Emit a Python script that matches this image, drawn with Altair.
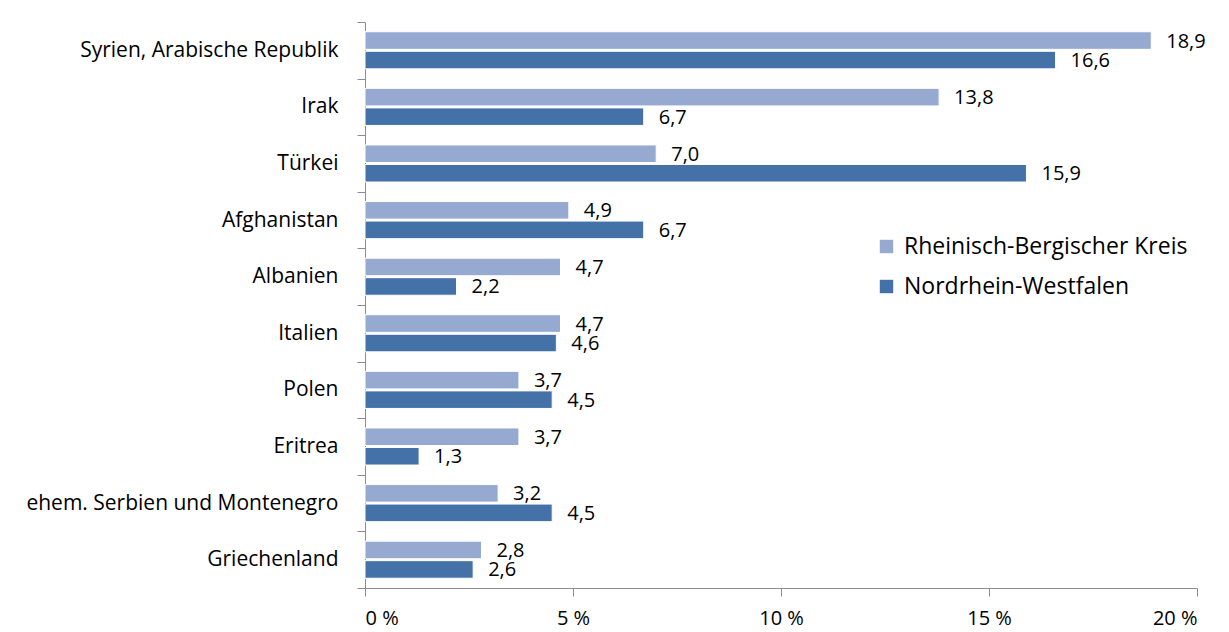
import altair as alt
import pandas as pd

categories = ["Syrien, Arabische Republik", "Irak", "Türkei", "Afghanistan", "Albanien",
              "Italien", "Polen", "Eritrea", "ehem. Serbien und Montenegro", "Griechenland"]
rbk = [18.9, 13.8, 7.0, 4.9, 4.7, 4.7, 3.7, 3.7, 3.2, 2.8]
nrw = [16.6, 6.7, 15.9, 6.7, 2.2, 4.6, 4.5, 1.3, 4.5, 2.6]
series = ["Rheinisch-Bergischer Kreis", "Nordrhein-Westfalen"]
colors = ["#95A9D1", "#4472A8"]

rows = []
for i, c in enumerate(categories):
    rows.append({"land": c, "serie": series[0], "wert": rbk[i]})
    rows.append({"land": c, "serie": series[1], "wert": nrw[i]})
df = pd.DataFrame(rows)
df["label"] = df["wert"].map(lambda v: f"{v:.1f}".replace(".", ","))

FONT = "Open Sans"

y_enc = alt.Y("land:N", sort=categories, title=None,
              scale=alt.Scale(paddingInner=0, paddingOuter=0),
              axis=alt.Axis(tickBand="extent", ticks=True, tickSize=8, tickColor="#8C8C8C",
                            domainColor="#8C8C8C", labelFont=FONT, labelFontSize=21,
                            labelColor="#000000", labelPadding=19, labelLimit=400))
yoff = alt.YOffset("serie:N", sort=series,
                   scale=alt.Scale(paddingInner=0.1, paddingOuter=0.5))
x_enc = alt.X("wert:Q", title=None,
              scale=alt.Scale(domain=[0, 20], nice=False),
              axis=alt.Axis(values=[0, 5, 10, 15, 20], labelExpr="datum.value + ' %'",
                            grid=False, tickSize=8, tickColor="#8C8C8C", domainColor="#8C8C8C",
                            labelFont=FONT, labelFontSize=20, labelColor="#000000",
                            labelPadding=12))

bars = alt.Chart(df).mark_bar(stroke="white", strokeWidth=1).encode(
    x=x_enc, y=y_enc, yOffset=yoff,
    color=alt.Color("serie:N", sort=series,
                    scale=alt.Scale(domain=series, range=colors),
                    legend=alt.Legend(title=None, orient="none", legendX=510, legendY=213,
                                      symbolType="square", symbolSize=180,
                                      symbolStrokeWidth=0, labelFont=FONT,
                                      labelFontSize=23, labelColor="#000000",
                                      labelLimit=500, rowPadding=16, labelOffset=6))
)

labels = alt.Chart(df).mark_text(align="left", baseline="middle", dx=15, dy=1,
                                 font=FONT, fontSize=20, color="#000000").encode(
    x="wert:Q", y=alt.Y("land:N", sort=categories), yOffset=alt.YOffset("serie:N", sort=series),
    text="label:N"
)

chart = alt.layer(bars, labels).properties(
    width=832, height=566,
    autosize=alt.AutoSizeParams(type="none"),
    padding={"left": 357, "top": 14, "right": 20, "bottom": 44}
).configure_view(stroke=None)

chart.save("out.html", embed_options={"renderer": "svg", "actions": False})
